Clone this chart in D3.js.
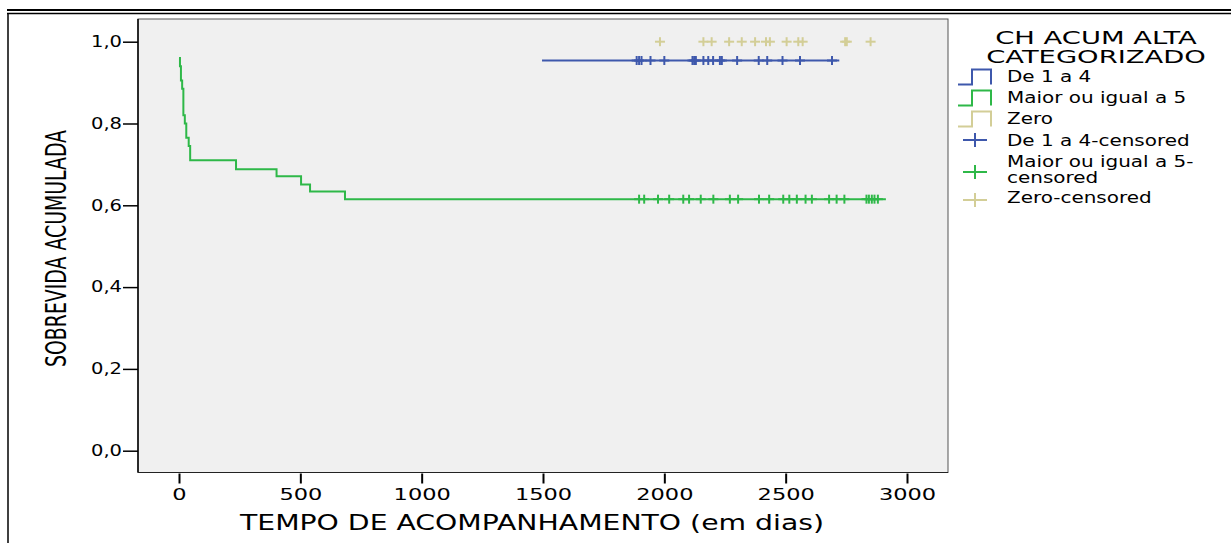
<!DOCTYPE html>
<html>
<head>
<meta charset="utf-8">
<script src="https://cdn.jsdelivr.net/npm/d3@7"></script>
<style>
  body { margin: 0; background: #fff; }
  svg { display: block; }
  text { font-family: "DejaVu Sans", Verdana, sans-serif; fill: #000; }
</style>
</head>
<body>
<div id="canvas"></div>
<script>
// survival steps
const greenTimes = [0, 4, 8, 13, 18, 24, 30, 40, 46, 235, 402, 503, 540, 684, 2913];
const greenSurv = [0.96, 0.94, 0.905, 0.885, 0.82, 0.80, 0.765, 0.745, 0.71, 0.688, 0.671, 0.651, 0.634, 0.615, 0.615];
const blueTimes = [1496, 2721];
const blueSurv = [0.954, 0.954];

// censored cases
const greenCensored = [1896, 1917, 1974, 2020, 2078, 2102, 2150, 2202, 2270, 2304, 2390, 2432, 2490, 2515, 2546, 2582, 2608, 2679, 2710, 2742, 2833, 2843, 2855, 2866, 2880];
const blueCensored = [1886, 1896, 1906, 1943, 2000, 2116, 2123, 2130, 2161, 2181, 2201, 2229, 2237, 2300, 2389, 2424, 2487, 2559, 2691];
const zeroCensored = [1982, 2161, 2195, 2267, 2319, 2374, 2419, 2435, 2504, 2552, 2570, 2745, 2752, 2850];
const zeroSurv = 1.0;

const xTicks = [0, 500, 1000, 1500, 2000, 2500, 3000];
const yTicks = [0, 0.2, 0.4, 0.6, 0.8, 1.0];

const legendTitle = ["CH ACUM ALTA", "CATEGORIZADO"];
const legendLines = ["De 1 a 4", "Maior ou igual a 5", "Zero"];
const legendCens = [["De 1 a 4-censored"], ["Maior ou igual a 5-", "censored"], ["Zero-censored"]];

const colors = { blue: "#3e58ac", green: "#2eb848", zero: "#d3ce97" };

const width = 1231;
const height = 543;

const svg = d3.select("#canvas").append("svg").attr("width", width).attr("height", height);

// the original font is wider than DejaVu, so stretch text horizontally
function widen(sel, k) {
  sel.each(function () {
    const len = this.getComputedTextLength();
    d3.select(this).attr("textLength", len * k).attr("lengthAdjust", "spacingAndGlyphs");
  });
}

// frame
svg.append("line").attr("x1", 7).attr("x2", width).attr("y1", 10).attr("y2", 10)
  .attr("stroke", "#000").attr("stroke-width", 2);
svg.append("line").attr("x1", 7).attr("x2", width).attr("y1", 13.5).attr("y2", 13.5)
  .attr("stroke", "#000").attr("stroke-width", 1.5);
svg.append("line").attr("x1", 8).attr("x2", 8).attr("y1", 13).attr("y2", height)
  .attr("stroke", "#000").attr("stroke-width", 1.5);

const x = d3.scaleLinear().domain([0, 3000]).range([179, 907]);
const y = d3.scaleLinear().domain([0, 1]).range([450.7, 41.7]);

const plot = { left: 138, top: 19, right: 948, bottom: 472.5 };

svg.append("rect")
  .attr("x", plot.left).attr("y", plot.top)
  .attr("width", plot.right - plot.left).attr("height", plot.bottom - plot.top)
  .attr("fill", "#f0f0f0").attr("stroke", "#555").attr("stroke-width", 1);
svg.append("line").attr("x1", plot.left).attr("x2", plot.left).attr("y1", plot.top).attr("y2", plot.bottom)
  .attr("stroke", "#000").attr("stroke-width", 1.5);
svg.append("line").attr("x1", plot.left).attr("x2", plot.right).attr("y1", plot.bottom).attr("y2", plot.bottom)
  .attr("stroke", "#222").attr("stroke-width", 1.2);

// axes
const yAxis = svg.append("g").attr("transform", `translate(${plot.left},0)`)
  .call(d3.axisLeft(y).tickValues(yTicks).tickSize(15).tickPadding(1)
    .tickFormat((d) => d3.format(".1f")(d).replace(".", ",")));
yAxis.select(".domain").remove();
yAxis.selectAll(".tick line").attr("stroke", "#000").attr("stroke-width", 1.5);
yAxis.selectAll(".tick text").attr("font-family", "DejaVu Sans").attr("font-size", 15).attr("fill", "#000");
widen(yAxis.selectAll(".tick text"), 1.3);

const xAxis = svg.append("g").attr("transform", `translate(0,${plot.bottom})`)
  .call(d3.axisBottom(x).tickValues(xTicks).tickSize(11).tickFormat(d3.format("d")));
xAxis.select(".domain").remove();
xAxis.selectAll(".tick line").attr("stroke", "#000").attr("stroke-width", 2).attr("y1", 1);
xAxis.selectAll(".tick text").attr("font-family", "DejaVu Sans").attr("font-size", 15.5)
  .attr("fill", "#000").attr("dy", null).attr("y", 27.5);
widen(xAxis.selectAll(".tick text"), 1.45);

// axis titles
svg.append("text")
  .attr("x", 240).attr("y", 530)
  .attr("font-size", 21)
  .attr("textLength", 584).attr("lengthAdjust", "spacingAndGlyphs")
  .text("TEMPO DE ACOMPANHAMENTO (em dias)");

svg.append("text")
  .attr("transform", "translate(66,367) rotate(-90)")
  .attr("font-size", 28)
  .attr("textLength", 237).attr("lengthAdjust", "spacingAndGlyphs")
  .text("SOBREVIDA ACUMULADA");

// curves
const step = d3.line().x((d) => x(d[0])).y((d) => y(d[1])).curve(d3.curveStepAfter);

svg.append("path")
  .datum(greenTimes.map((t, i) => [t, greenSurv[i]]))
  .attr("d", step).attr("fill", "none").attr("stroke", colors.green).attr("stroke-width", 2);

svg.append("path")
  .datum(blueTimes.map((t, i) => [t, blueSurv[i]]))
  .attr("d", step).attr("fill", "none").attr("stroke", colors.blue).attr("stroke-width", 2);

// censor marks
function censor(times, surv, color) {
  const g = svg.append("g");
  times.forEach((t) => {
    g.append("line")
      .attr("x1", x(t)).attr("x2", x(t))
      .attr("y1", y(surv) - 4.5).attr("y2", y(surv) + 4.5)
      .attr("stroke", color).attr("stroke-width", 2);
    g.append("line")
      .attr("x1", x(t) - 5).attr("x2", x(t) + 5)
      .attr("y1", y(surv)).attr("y2", y(surv))
      .attr("stroke", color).attr("stroke-width", 2);
  });
}
censor(greenCensored, greenSurv[greenSurv.length - 1], colors.green);
censor(blueCensored, blueSurv[0], colors.blue);
censor(zeroCensored, zeroSurv, colors.zero);

// legend
const legend = svg.append("g");
legendTitle.forEach((t, i) => {
  legend.append("text")
    .attr("class", "ltitle")
    .attr("x", 1096).attr("y", 44 + i * 19)
    .attr("text-anchor", "middle")
    .attr("font-size", 18)
    .text(t);
});
widen(legend.selectAll(".ltitle"), 1.52);

const lineColors = [colors.blue, colors.green, colors.zero];
legendLines.forEach((t, i) => {
  const by = 84.5 + i * 21;
  legend.append("path")
    .attr("d", `M958,${by}H972V${by - 15}H991V${by}`)
    .attr("fill", "none").attr("stroke", lineColors[i]).attr("stroke-width", 2);
  legend.append("text")
    .attr("class", "litem")
    .attr("x", 1007).attr("y", by - 2.5)
    .attr("font-size", 15)
    .text(t);
});

const censY = [140, 172, 200];
const censBase = [[146], [167, 183], [203]];
legendCens.forEach((lines, i) => {
  legend.append("line").attr("x1", 963).attr("x2", 987).attr("y1", censY[i]).attr("y2", censY[i])
    .attr("stroke", lineColors[i]).attr("stroke-width", 2);
  legend.append("line").attr("x1", 975).attr("x2", 975).attr("y1", censY[i] - 7).attr("y2", censY[i] + 7)
    .attr("stroke", lineColors[i]).attr("stroke-width", 2);
  lines.forEach((t, j) => {
    legend.append("text")
      .attr("class", "litem")
      .attr("x", 1007).attr("y", censBase[i][j])
      .attr("font-size", 15)
      .text(t);
  });
});
widen(legend.selectAll(".litem"), 1.33);
</script>
</body>
</html>
